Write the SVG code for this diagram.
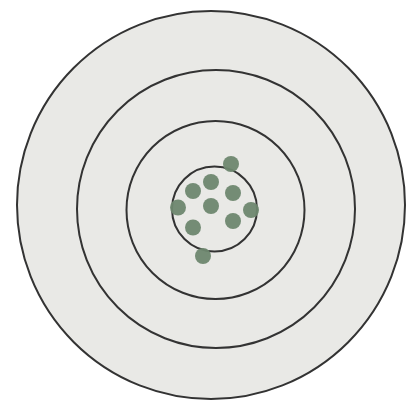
<svg xmlns="http://www.w3.org/2000/svg" width="408" height="406" viewBox="0 0 408 406">
<style>
.ring{fill:none;stroke:#333333;stroke-width:2}
.dot{fill:#6e876f;opacity:0.95}
</style>
<rect width="408" height="406" fill="#ffffff"/>
<g id="target">
<circle cx="211" cy="205" r="194" fill="#e9e9e6"/>
<circle class="ring" cx="211" cy="205" r="194"/>
<circle class="ring" cx="216" cy="209" r="139"/>
<circle class="ring" cx="215.5" cy="210" r="89"/>
<circle class="ring" cx="214.5" cy="209" r="42.5"/>
</g>
<g id="shots">
<circle class="dot" cx="231" cy="164" r="8"/>
<circle class="dot" cx="211" cy="182" r="8"/>
<circle class="dot" cx="193" cy="191" r="8"/>
<circle class="dot" cx="233" cy="193" r="8"/>
<circle class="dot" cx="178" cy="207.5" r="8"/>
<circle class="dot" cx="211" cy="206" r="8"/>
<circle class="dot" cx="251" cy="210" r="8"/>
<circle class="dot" cx="233" cy="221" r="8"/>
<circle class="dot" cx="193" cy="227.5" r="8"/>
<circle class="dot" cx="203" cy="256" r="8"/>
</g>
</svg>
